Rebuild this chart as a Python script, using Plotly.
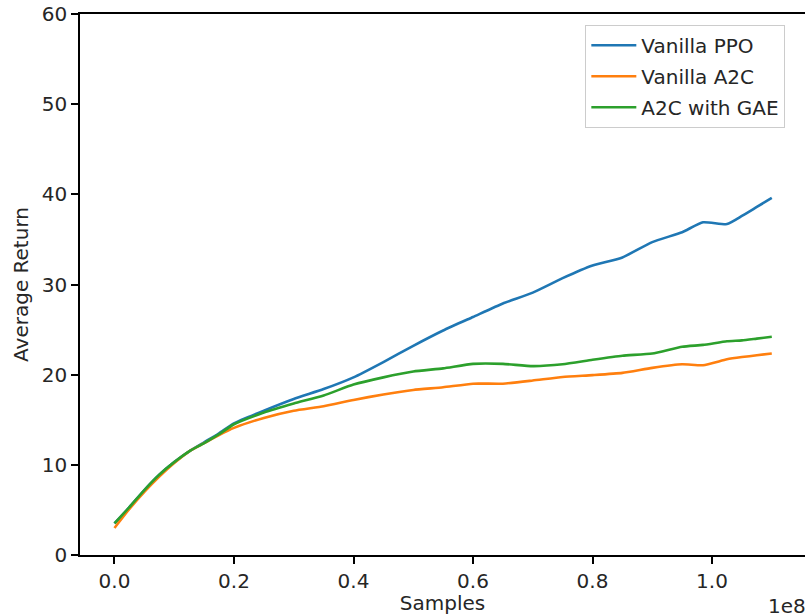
import plotly.graph_objects as go

# x positions in units of 1e8 samples
samples_e8 = [0.0, 0.025, 0.05, 0.075, 0.1, 0.125, 0.15, 0.175, 0.2, 0.25, 0.3, 0.35,
              0.4, 0.45, 0.5, 0.55, 0.6, 0.65, 0.7, 0.75, 0.8, 0.85, 0.9, 0.95,
              0.985, 1.025, 1.05, 1.075, 1.1]
samples = [s * 1e8 for s in samples_e8]

ppo = [3.5, 5.3, 7.2, 8.9, 10.3, 11.5, 12.5, 13.5, 14.6, 16.0, 17.3, 18.4,
       19.7, 21.4, 23.2, 24.9, 26.4, 27.9, 29.1, 30.7, 32.1, 33.0, 34.7, 35.8,
       36.9, 36.7, 37.6, 38.6, 39.6]
a2c = [3.0, 5.1, 7.0, 8.7, 10.2, 11.5, 12.4, 13.3, 14.1, 15.2, 16.0, 16.5,
       17.2, 17.8, 18.3, 18.6, 19.0, 19.0, 19.35, 19.75, 19.95, 20.2, 20.75, 21.15,
       21.05, 21.7, 21.95, 22.15, 22.35]
a2c_gae = [3.5, 5.3, 7.2, 8.9, 10.3, 11.5, 12.4, 13.4, 14.5, 15.8, 16.8, 17.7,
           18.9, 19.7, 20.35, 20.7, 21.2, 21.2, 20.95, 21.15, 21.65, 22.1, 22.35, 23.1,
           23.3, 23.7, 23.8, 24.0, 24.2]

names = ["Vanilla PPO", "Vanilla A2C", "A2C with GAE"]
colors = ["#1f77b4", "#ff7f0e", "#2ca02c"]
series = [ppo, a2c, a2c_gae]

x_ticks_e8 = [0.0, 0.2, 0.4, 0.6, 0.8, 1.0]
x_tick_labels = ["0.0", "0.2", "0.4", "0.6", "0.8", "1.0"]
y_ticks = [0, 10, 20, 30, 40, 50, 60]

FONT = "DejaVu Sans"
FS = 20
TXT = "#262626"

fig = go.Figure()
for i, (nm, col, ys) in enumerate(zip(names, colors, series)):
    fig.add_trace(go.Scatter(x=samples, y=ys, mode="lines", name=nm,
                             legendgroup=str(i),
                             line=dict(color=col, width=2.6, shape="spline", smoothing=0.5)))

fig.update_layout(
    width=805, height=615,
    margin=dict(l=80, r=0, t=14, b=60),
    paper_bgcolor="white", plot_bgcolor="white",
    font=dict(family=FONT, size=FS, color=TXT),
    showlegend=True,
    legend=dict(x=0.697, y=0.98, xanchor="left", yanchor="top",
                bgcolor="rgba(255,255,255,0.8)", bordercolor="#cccccc", borderwidth=1,
                font=dict(family=FONT, size=FS, color=TXT),
                itemwidth=45, tracegroupgap=2),
    xaxis=dict(range=[-0.0577e8, 1.1556e8], automargin=False,
               tickvals=[t * 1e8 for t in x_ticks_e8], ticktext=x_tick_labels,
               showgrid=False, zeroline=False,
               showline=True, linecolor="black", linewidth=1.5, mirror=True,
               ticks="outside", ticklen=7, tickwidth=1.5, tickcolor="black",
               title=dict(text="Samples", standoff=6, font=dict(size=FS))),
    yaxis=dict(range=[0, 60], tickvals=y_ticks, automargin=False,
               showgrid=False, zeroline=False,
               showline=True, linecolor="black", linewidth=1.5, mirror=False,
               ticks="outside", ticklen=7, tickwidth=1.5, tickcolor="black",
               title=dict(text="Average Return", standoff=8, font=dict(size=FS))),
)

fig.add_annotation(text="1e8", xref="paper", yref="paper", x=1.0, y=0, xanchor="right",
                   yanchor="top", yshift=-37, xshift=3, showarrow=False,
                   font=dict(family=FONT, size=FS, color=TXT))

fig.write_html("out.html",
               config={"displayModeBar": False},
               post_script="document.body.style.margin='0';document.body.style.overflow='hidden';")
